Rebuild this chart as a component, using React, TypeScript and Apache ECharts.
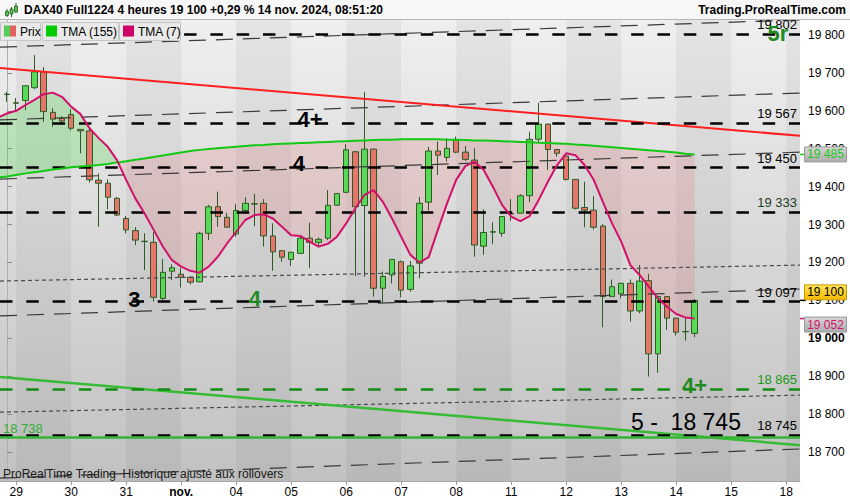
import React, { useEffect, useRef } from "react";
import * as echarts from "echarts";

const FONT = "'Liberation Sans', Arial, Helvetica, sans-serif";

// ---------- axes ----------
const X_MIN = -0.76;
const X_MAX = 86.5;
const Y_MIN = 18623.5;
const Y_MAX = 19839.6;
const DAY_LABELS = ["29", "30", "31", "nov.", "04", "05", "06", "07", "08", "11", "12", "13", "14", "15", "18"];
const DAY_START_INDEX = [1, 7, 13, 19, 25, 31, 37, 43, 49, 55, 61, 67, 73, 79, 85];
const SHADED_DAYS = [[1, 7], [13, 19], [25, 31], [37, 43], [49, 55], [61, 67], [73, 79], [85, 91]];
const Y_TICKS = [18700, 18800, 18900, 19000, 19100, 19200, 19300, 19400, 19500, 19600, 19700, 19800];

// ---------- candles (4h bars, index 0 = 28 oct 20h) ----------
const OPEN = [19643, 19621, 19627, 19661, 19702, 19596, 19580, 19590, 19551, 19547, 19417, 19409, 19369, 19316, 19284, 19256, 19253, 19105, 19177, 19169, 19161, 19149, 19277, 19347, 19319, 19275, 19337, 19355, 19356, 19270, 19231, 19208, 19224, 19264, 19253, 19264, 19351, 19385, 19492, 19350, 19499, 19132, 19167, 19202, 19129, 19198, 19359, 19494, 19477, 19523, 19491, 19470, 19243, 19280, 19277, 19328, 19330, 19376, 19525, 19565, 19498, 19481, 19419, 19345, 19338, 19296, 19110, 19117, 19145, 19072, 19152, 18959, 19110, 19053, 19017, 19013];
const CLOSE = [19644, 19620, 19666, 19703, 19598, 19578, 19573, 19554, 19547, 19418, 19409, 19372, 19325, 19286, 19259, 19255, 19108, 19174, 19186, 19161, 19148, 19277, 19347, 19321, 19293, 19337, 19356, 19354, 19270, 19228, 19214, 19227, 19264, 19253, 19261, 19351, 19382, 19497, 19347, 19499, 19132, 19163, 19208, 19127, 19191, 19356, 19494, 19483, 19501, 19491, 19472, 19246, 19279, 19281, 19321, 19329, 19376, 19525, 19565, 19498, 19488, 19419, 19343, 19338, 19293, 19110, 19136, 19145, 19072, 19151, 18959, 19110, 19053, 19016, 19018, 19100];
const LOW = [19624, 19600, 19602, 19657, 19571, 19558, 19568, 19548, 19488, 19411, 19294, 19340, 19322, 19277, 19246, 19180, 19097, 19100, 19154, 19134, 19142, 19148, 19259, 19294, 19292, 19268, 19336, 19296, 19242, 19178, 19202, 19191, 19223, 19185, 19242, 19259, 19350, 19384, 19164, 19162, 19110, 19094, 19145, 19108, 19123, 19158, 19337, 19431, 19466, 19488, 19468, 19215, 19220, 19249, 19268, 19310, 19329, 19359, 19514, 19444, 19479, 19416, 19340, 19293, 19287, 19029, 19109, 19105, 19044, 19066, 18899, 18909, 19022, 19007, 18994, 19003];
const HIGH = [19650, 19634, 19667, 19747, 19715, 19607, 19586, 19604, 19552, 19554, 19435, 19419, 19373, 19323, 19293, 19277, 19280, 19209, 19195, 19185, 19162, 19281, 19352, 19387, 19331, 19354, 19372, 19381, 19367, 19303, 19232, 19228, 19272, 19305, 19266, 19391, 19383, 19512, 19493, 19650, 19500, 19176, 19209, 19205, 19204, 19373, 19505, 19519, 19528, 19532, 19507, 19501, 19340, 19306, 19322, 19367, 19380, 19545, 19621, 19566, 19499, 19482, 19420, 19413, 19375, 19301, 19155, 19146, 19155, 19193, 19170, 19112, 19111, 19054, 19053, 19103];

// ---------- indicators (first value belongs to index -1) ----------
const TMA_START = -1;
const TMA7 = [19582, 19593, 19600, 19615, 19629, 19644, 19648, 19637, 19611, 19592, 19554, 19528, 19505, 19470, 19418, 19369, 19330, 19286, 19242, 19206, 19189, 19178, 19173, 19189, 19215, 19250, 19281, 19312, 19325, 19327, 19316, 19294, 19272, 19270, 19255, 19242, 19249, 19268, 19303, 19343, 19378, 19391, 19360, 19316, 19268, 19220, 19200, 19214, 19286, 19356, 19418, 19454, 19466, 19444, 19400, 19352, 19321, 19309, 19322, 19365, 19413, 19457, 19488, 19483, 19457, 19418, 19360, 19303, 19255, 19193, 19167, 19136, 19105, 19083, 19064, 19055, 19052];
const TMA155 = [19424, 19427, 19431, 19435, 19438, 19441, 19445, 19448, 19451, 19453, 19455, 19457, 19460, 19464, 19467, 19471, 19474, 19478, 19482, 19486, 19490, 19494, 19497, 19499, 19501, 19503, 19505, 19507, 19509, 19510, 19512, 19513, 19514, 19515, 19516, 19517, 19518, 19519, 19520, 19521, 19522, 19523, 19524, 19524, 19525, 19525, 19525, 19525, 19525, 19524, 19524, 19523, 19522, 19522, 19521, 19520, 19519, 19518, 19517, 19516, 19515, 19514, 19513, 19511, 19510, 19508, 19506, 19504, 19502, 19500, 19498, 19496, 19494, 19492, 19490, 19487, 19485];

// ---------- horizontal levels ----------
const LEVELS = [19802, 19567, 19450, 19333, 19097, 18865, 18745, 18738];
const LEVEL_KIND = ["black", "black", "black", "dark", "black", "green", "black", "greenSolid"];

// ---------- trend lines (value at left edge, value at right edge) ----------
const TREND_START = [19768, 19576, 19420, 19151, 19059, 18805, 18631, 19713, 18898];
const TREND_END = [19840, 19647, 19491, 19193, 19130, 18850, 18708, 19534, 18718];
const TREND_KIND = ["long", "long", "long", "dot", "long", "dot", "long", "red", "green"];

// ---------- annotations ----------
const ANNOT_TEXT = ["4+", "4", "3", "4", "4+", "5r", "5 -  18 745"];
const ANNOT_X = [33.05, 31.85, 13.9, 27.05, 75.0, 84.1, 74.06];
const ANNOT_Y = [19576, 19462, 19101, 19106, 18876, 19805, 18780];
const ANNOT_KIND = ["black", "black", "black", "green", "green", "green", "big"];

const LAST_PRICE = 19100;
const LAST_TMA155 = 19485;
const LAST_TMA7 = 19052;

const TITLE = "DAX40 Full1224 4 heures 19 100 +0,29 % 14 nov. 2024, 08:51:20";

// ---------- styles ----------
const UP = "#58da58";
const DOWN = "#e6756b";
const BORDER = "#2e5b24";
const TMA7_COLOR = "#d1106a";
const TMA155_COLOR = "#12c812";
const GREEN_FILL = "rgba(70, 215, 70, 0.26)";
const PINK_FILL = "rgba(235, 110, 110, 0.2)";

const TREND_STYLE: Record<string, any> = {
  long: { color: "#3a3a3a", width: 1.2, type: [17, 10] },
  dot: { color: "#4a4a4a", width: 1.2, type: [4, 3] },
  red: { color: "#ff1f1f", width: 2, type: "solid" },
  green: { color: "#36bb36", width: 2.5, type: "solid" },
};

const LEVEL_STYLE: Record<string, any> = {
  black: { line: "#000000", label: "#000000", type: [12.5, 13.8], width: 2.5, pos: "insideEndTop" },
  dark: { line: "#000000", label: "#1d3d1d", type: [12.5, 13.8], width: 2.5, pos: "insideEndTop" },
  green: { line: "#138c13", label: "#1a9a1a", type: [12.5, 13.8], width: 2.5, pos: "insideEndTop" },
  greenSolid: { line: "#33b533", label: "#2fae2f", type: "solid", width: 2.5, pos: "insideStartTop" },
};

const ANNOT_STYLE: Record<string, any> = {
  black: { color: "#000", fontSize: 22, fontWeight: "bold" },
  green: { color: "#1f8a1f", fontSize: 22, fontWeight: "bold" },
  big: { color: "#000", fontSize: 23, fontWeight: "normal" },
};

const fmt = (v: number) => {
  const s = String(Math.round(v));
  return s.slice(0, s.length - 3) + " " + s.slice(-3);
};

function buildOption(): any {
  const candleData = OPEN.map((o, i) => [i, o, CLOSE[i], LOW[i], HIGH[i]]);
  const tma7Data = TMA7.map((v, k) => [TMA_START + k, v]);
  const tma155Data = TMA155.map((v, k) => [TMA_START + k, v]);
  const fillData = TMA7.map((v, k) => [TMA_START + k, v, TMA155[k]]);

  const trendSeries = TREND_START.map((v, k) => {
    const s = TREND_STYLE[TREND_KIND[k]];
    return {
      type: "line",
      data: [
        [X_MIN, v],
        [X_MAX, TREND_END[k]],
      ],
      showSymbol: false,
      symbol: "none",
      silent: true,
      z: 4,
      lineStyle: { color: s.color, width: s.width, type: s.type },
    };
  });

  const levelLines = LEVELS.map((v, k) => {
    const s = LEVEL_STYLE[LEVEL_KIND[k]];
    return {
      yAxis: v,
      lineStyle: { color: s.line, width: s.width, type: s.type },
      label: {
        show: true,
        position: s.pos,
        formatter: fmt(v),
        color: s.label,
        fontSize: 13,
        fontFamily: FONT,
        distance: 3,
      },
    };
  });

  const annotations = ANNOT_TEXT.map((t, k) => {
    const s = ANNOT_STYLE[ANNOT_KIND[k]];
    return {
      name: t,
      coord: [ANNOT_X[k], ANNOT_Y[k]],
      label: {
        show: true,
        position: "inside",
        formatter: "{b}",
        color: s.color,
        fontSize: s.fontSize,
        fontWeight: s.fontWeight,
        fontFamily: FONT,
      },
    };
  });

  const renderFill = (params: any, api: any) => {
    if (params.dataIndex !== 0) return null;
    const children: any[] = [];
    const poly = (u: number[][], l: number[][], up: boolean) => ({
      type: "polygon",
      shape: { points: u.concat(l.slice().reverse()).map((p) => api.coord(p)) },
      style: { fill: up ? GREEN_FILL : PINK_FILL },
    });
    let upper: number[][] = [[TMA_START, TMA7[0]]];
    let lower: number[][] = [[TMA_START, TMA155[0]]];
    let sign = TMA7[0] >= TMA155[0];
    for (let k = 1; k < TMA7.length; k++) {
      const x0 = TMA_START + k - 1;
      const x1 = TMA_START + k;
      const d0 = TMA7[k - 1] - TMA155[k - 1];
      const d1 = TMA7[k] - TMA155[k];
      if (d0 >= 0 !== d1 >= 0 && d0 !== d1) {
        const t = d0 / (d0 - d1);
        const xc = x0 + t * (x1 - x0);
        const yc = TMA7[k - 1] + t * (TMA7[k] - TMA7[k - 1]);
        upper.push([xc, yc]);
        lower.push([xc, yc]);
        children.push(poly(upper, lower, sign));
        upper = [[xc, yc]];
        lower = [[xc, yc]];
        sign = d1 >= 0;
      }
      upper.push([x1, TMA7[k]]);
      lower.push([x1, TMA155[k]]);
    }
    children.push(poly(upper, lower, sign));
    return { type: "group", children };
  };

  const staticGraphics: any[] = [
    { type: "rect", id: "titlebg", shape: { x: 0, y: 0, width: 850, height: 19 }, style: { fill: "#f7f7f7" }, z: 100 },
    { type: "line", id: "titleline", shape: { x1: 0, y1: 19.5, x2: 850, y2: 19.5 }, style: { stroke: "#b8b8b8", lineWidth: 1 }, z: 100 },
    { type: "line", id: "ic1w", shape: { x1: 7, y1: 9, x2: 7, y2: 17 }, style: { stroke: "#2e5b24", lineWidth: 1 }, z: 101 },
    { type: "rect", id: "ic1", shape: { x: 5.5, y: 11.5, width: 3, height: 4 }, style: { fill: "#4cc84c", stroke: "#2e5b24", lineWidth: 0.8 }, z: 102 },
    { type: "line", id: "ic2w", shape: { x1: 11.5, y1: 7, x2: 11.5, y2: 17 }, style: { stroke: "#2e5b24", lineWidth: 1 }, z: 101 },
    { type: "rect", id: "ic2", shape: { x: 10, y: 9, width: 3, height: 5 }, style: { fill: "#4cc84c", stroke: "#2e5b24", lineWidth: 0.8 }, z: 102 },
    { type: "line", id: "ic3w", shape: { x1: 16, y1: 3, x2: 16, y2: 13 }, style: { stroke: "#2e5b24", lineWidth: 1 }, z: 101 },
    { type: "rect", id: "ic3", shape: { x: 14.5, y: 6, width: 3, height: 6 }, style: { fill: "#4cc84c", stroke: "#2e5b24", lineWidth: 0.8 }, z: 102 },
    {
      type: "text", id: "title", x: 24, y: 10, z: 101,
      style: { text: TITLE, font: "bold 12px " + FONT, fill: "#000", textAlign: "left", align: "left", textVerticalAlign: "middle", verticalAlign: "middle" },
    },
    {
      type: "text", id: "site", x: 846, y: 10, z: 101,
      style: { text: "Trading.ProRealTime.com", font: "bold 12px " + FONT, fill: "#000", textAlign: "right", align: "right", textVerticalAlign: "middle", verticalAlign: "middle" },
    },
    // legend
    { type: "rect", id: "lg1", shape: { x: 0.5, y: 22.5, width: 40, height: 18 }, style: { fill: "#e9e9e9", stroke: "#c6c6c6", lineWidth: 1 }, z: 100 },
    { type: "rect", id: "lg1a", shape: { x: 4, y: 25.5, width: 6, height: 11 }, style: { fill: "#55cc55" }, z: 101 },
    { type: "rect", id: "lg1b", shape: { x: 10, y: 25.5, width: 6, height: 11 }, style: { fill: "#e06060" }, z: 101 },
    { type: "text", id: "lg1t", x: 20, y: 31.5, z: 101, style: { text: "Prix", font: "12px " + FONT, fill: "#000", textVerticalAlign: "middle", verticalAlign: "middle" } },
    { type: "rect", id: "lg2", shape: { x: 42.5, y: 22.5, width: 76, height: 18 }, style: { fill: "#e9e9e9", stroke: "#c6c6c6", lineWidth: 1 }, z: 100 },
    { type: "rect", id: "lg2a", shape: { x: 46, y: 25.5, width: 11, height: 11 }, style: { fill: "#00cc00" }, z: 101 },
    { type: "text", id: "lg2t", x: 61, y: 31.5, z: 101, style: { text: "TMA (155)", font: "12px " + FONT, fill: "#000", textVerticalAlign: "middle", verticalAlign: "middle" } },
    { type: "rect", id: "lg3", shape: { x: 119.5, y: 22.5, width: 61, height: 18 }, style: { fill: "#e9e9e9", stroke: "#c6c6c6", lineWidth: 1 }, z: 100 },
    { type: "rect", id: "lg3a", shape: { x: 123, y: 25.5, width: 11, height: 11 }, style: { fill: "#cc0066" }, z: 101 },
    { type: "text", id: "lg3t", x: 138, y: 31.5, z: 101, style: { text: "TMA (7)", font: "12px " + FONT, fill: "#000", textVerticalAlign: "middle", verticalAlign: "middle" } },
    {
      type: "text", id: "foot", x: 3, y: 474, z: 101,
      style: { text: "ProRealTime Trading  Historique ajusté aux rollovers", font: "12px " + FONT, fill: "#1a1a1a", textVerticalAlign: "middle", verticalAlign: "middle" },
    },
  ];

  return {
    animation: false,
    backgroundColor: "#ffffff",
    textStyle: { fontFamily: FONT },
    grid: {
      left: 0,
      top: 20,
      width: 800,
      height: 461,
      show: true,
      borderWidth: 0,
      backgroundColor: new echarts.graphic.LinearGradient(0, 0, 0, 1, [
        { offset: 0, color: "#efefef" },
        { offset: 1, color: "#c1c1c1" },
      ]),
    },
    xAxis: {
      type: "value",
      min: X_MIN,
      max: X_MAX,
      axisLine: { show: true, lineStyle: { color: "#a8a8a8" } },
      axisTick: { show: true, customValues: DAY_START_INDEX, length: 4, lineStyle: { color: "#9a9a9a" } },
      axisLabel: {
        customValues: DAY_START_INDEX,
        margin: 5,
        color: "#000",
        fontSize: 12,
        fontFamily: FONT,
        formatter: (v: number) => {
          const k = DAY_START_INDEX.indexOf(Math.round(v));
          const s = DAY_LABELS[k] ?? "";
          return s === "nov." ? "{b|nov.}" : s;
        },
        rich: { b: { fontWeight: "bold", fontSize: 12, color: "#000", fontFamily: FONT } },
      },
      splitLine: { show: false },
    },
    yAxis: {
      type: "value",
      position: "right",
      min: Y_MIN,
      max: Y_MAX,
      axisLine: { show: true, lineStyle: { color: "#b0b0b0" } },
      axisTick: { show: true, customValues: Y_TICKS, length: 5, lineStyle: { color: "#888" } },
      axisLabel: {
        customValues: Y_TICKS,
        margin: 8,
        color: "#000",
        fontSize: 12,
        fontFamily: FONT,
        formatter: (v: number) => (Math.round(v) === 19000 ? "{b|19 000}" : fmt(v)),
        rich: { b: { fontWeight: "bold", fontSize: 12, color: "#000", fontFamily: FONT } },
      },
      splitLine: { show: false },
    },
    series: [
      {
        type: "custom",
        name: "fill",
        clip: true,
        z: 1,
        silent: true,
        data: fillData,
        encode: { x: 0, y: [1, 2] },
        renderItem: renderFill,
        markArea: {
          silent: true,
          itemStyle: { color: "rgba(0,0,0,0.045)" },
          data: SHADED_DAYS.map(([a, b]) => [{ xAxis: a }, { xAxis: b }]),
        },
      },
      ...trendSeries,
      {
        type: "candlestick",
        name: "Prix",
        data: candleData,
        barWidth: 6,
        z: 3,
        silent: true,
        itemStyle: {
          color: UP,
          color0: DOWN,
          borderColor: BORDER,
          borderColor0: BORDER,
          borderColorDoji: BORDER,
          borderWidth: 1,
        },
      },
      {
        type: "line",
        name: "TMA (155)",
        data: tma155Data,
        showSymbol: false,
        symbol: "none",
        silent: true,
        z: 5,
        lineStyle: { color: TMA155_COLOR, width: 2 },
      },
      {
        type: "line",
        name: "TMA (7)",
        data: tma7Data,
        showSymbol: false,
        symbol: "none",
        silent: true,
        z: 6,
        lineStyle: { color: TMA7_COLOR, width: 2 },
        markLine: {
          silent: true,
          symbol: ["none", "none"],
          animation: false,
          data: levelLines,
        },
        markPoint: {
          silent: true,
          symbol: "circle",
          symbolSize: 0,
          animation: false,
          data: annotations,
        },
      },
    ],
    graphic: staticGraphics,
  };
}

function priceBoxes(chart: any): any[] {
  const yp = (v: number) => chart.convertToPixel({ yAxisIndex: 0 }, v) as number;
  const gray = () =>
    new echarts.graphic.LinearGradient(0, 0, 0, 1, [
      { offset: 0, color: "#d6d6d6" },
      { offset: 1, color: "#ababab" },
    ]);
  const gold = new echarts.graphic.LinearGradient(0, 0, 0, 1, [
    { offset: 0, color: "#ffe55a" },
    { offset: 1, color: "#f4b800" },
  ]);
  const items = [
    { id: "tma155", v: LAST_TMA155, shift: 0, fill: gray(), stroke: "#9a9a9a", text: "#1ec81e", tick: "#12c812" },
    { id: "last", v: LAST_PRICE, shift: -8, fill: gold, stroke: "#c99a00", text: "#000000", tick: "#000000" },
    { id: "tma7", v: LAST_TMA7, shift: 6, fill: gray(), stroke: "#9a9a9a", text: "#d4146f", tick: "#d1106a" },
  ];
  const out: any[] = [];
  items.forEach((it) => {
    const y = yp(it.v);
    const yc = y + it.shift;
    out.push({
      type: "line", id: it.id + "_tick", z: 110,
      shape: { x1: 800, y1: y, x2: 806, y2: y },
      style: { stroke: it.tick, lineWidth: 1.5 },
    });
    out.push({
      type: "rect", id: it.id + "_box", z: 110,
      shape: { x: 804.5, y: yc - 7.5, width: 42, height: 15 },
      style: { fill: it.fill, stroke: it.stroke, lineWidth: 1 },
    });
    out.push({
      type: "text", id: it.id + "_txt", z: 111, x: 825.5, y: yc,
      style: {
        text: fmt(it.v), font: "12px " + FONT, fill: it.text,
        textAlign: "center", align: "center", textVerticalAlign: "middle", verticalAlign: "middle",
      },
    });
  });
  return out;
}

export default function App() {
  const ref = useRef<HTMLDivElement>(null);
  useEffect(() => {
    document.body.style.margin = "0";
    const chart = echarts.init(ref.current as HTMLDivElement, null, { renderer: "svg" });
    chart.setOption(buildOption());
    chart.setOption({ graphic: priceBoxes(chart) });
    return () => {
      chart.dispose();
    };
  }, []);
  return (
    <div
      ref={ref}
      style={{ position: "fixed", left: 0, top: 0, width: 850, height: 500, background: "#fff" }}
    />
  );
}
